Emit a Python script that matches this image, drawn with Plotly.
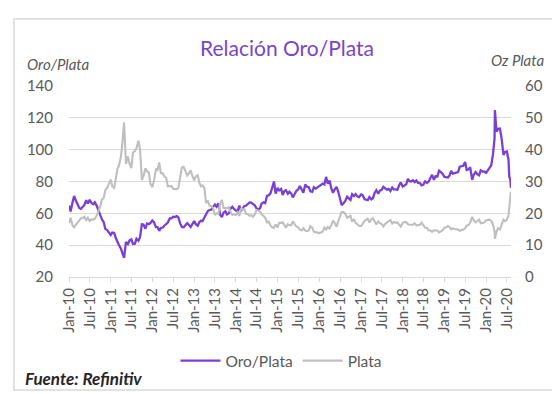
import plotly.graph_objects as go

# ---------------- data (semi-monthly readings) ----------------
DATES = """
2010-01-01 2010-01-15 2010-02-01 2010-02-15 2010-03-01 2010-03-15 2010-04-01 2010-04-15 2010-05-01 2010-05-15 2010-06-01 2010-06-15
2010-07-01 2010-07-15 2010-08-01 2010-08-15 2010-09-01 2010-09-15 2010-10-01 2010-10-15 2010-11-01 2010-11-15 2010-12-01 2010-12-15
2011-01-01 2011-01-15 2011-02-01 2011-02-15 2011-03-01 2011-03-15 2011-04-01 2011-04-15 2011-04-28 2011-05-15 2011-06-01 2011-06-15
2011-07-01 2011-07-15 2011-08-01 2011-08-15 2011-09-01 2011-09-15 2011-10-01 2011-10-15 2011-11-01 2011-11-15 2011-12-01 2011-12-15
2012-01-01 2012-01-15 2012-02-01 2012-02-15 2012-03-01 2012-03-15 2012-04-01 2012-04-15 2012-05-01 2012-05-15 2012-06-01 2012-06-15
2012-07-01 2012-07-15 2012-08-01 2012-08-15 2012-09-01 2012-09-15 2012-10-01 2012-10-15 2012-11-01 2012-11-15 2012-12-01 2012-12-15
2013-01-01 2013-01-15 2013-02-01 2013-02-15 2013-03-01 2013-03-15 2013-04-01 2013-04-15 2013-05-01 2013-05-15 2013-06-01 2013-06-15
2013-07-01 2013-07-15 2013-08-01 2013-08-15 2013-09-01 2013-09-15 2013-10-01 2013-10-15 2013-11-01 2013-11-15 2013-12-01 2013-12-15
2014-01-01 2014-01-15 2014-02-01 2014-02-15 2014-03-01 2014-03-15 2014-04-01 2014-04-15 2014-05-01 2014-05-15 2014-06-01 2014-06-15
2014-07-01 2014-07-15 2014-08-01 2014-08-15 2014-09-01 2014-09-15 2014-10-01 2014-10-15 2014-11-01 2014-11-15 2014-12-01 2014-12-15
2015-01-01 2015-01-15 2015-02-01 2015-02-15 2015-03-01 2015-03-15 2015-04-01 2015-04-15 2015-05-01 2015-05-15 2015-06-01 2015-06-15
2015-07-01 2015-07-15 2015-08-01 2015-08-15 2015-09-01 2015-09-15 2015-10-01 2015-10-15 2015-11-01 2015-11-15 2015-12-01 2015-12-15
2016-01-01 2016-01-15 2016-02-01 2016-02-15 2016-03-01 2016-03-15 2016-04-01 2016-04-15 2016-05-01 2016-05-15 2016-06-01 2016-06-15
2016-07-01 2016-07-15 2016-08-01 2016-08-15 2016-09-01 2016-09-15 2016-10-01 2016-10-15 2016-11-01 2016-11-15 2016-12-01 2016-12-15
2017-01-01 2017-01-15 2017-02-01 2017-02-15 2017-03-01 2017-03-15 2017-04-01 2017-04-15 2017-05-01 2017-05-15 2017-06-01 2017-06-15
2017-07-01 2017-07-15 2017-08-01 2017-08-15 2017-09-01 2017-09-15 2017-10-01 2017-10-15 2017-11-01 2017-11-15 2017-12-01 2017-12-15
2018-01-01 2018-01-15 2018-02-01 2018-02-15 2018-03-01 2018-03-15 2018-04-01 2018-04-15 2018-05-01 2018-05-15 2018-06-01 2018-06-15
2018-07-01 2018-07-15 2018-08-01 2018-08-15 2018-09-01 2018-09-15 2018-10-01 2018-10-15 2018-11-01 2018-11-15 2018-12-01 2018-12-15
2019-01-01 2019-01-15 2019-02-01 2019-02-15 2019-03-01 2019-03-15 2019-04-01 2019-04-15 2019-05-01 2019-05-15 2019-06-01 2019-06-15
2019-07-01 2019-07-15 2019-08-01 2019-08-15 2019-09-01 2019-09-15 2019-10-01 2019-10-15 2019-11-01 2019-11-15 2019-12-01 2019-12-15
2020-01-01 2020-01-15 2020-02-01 2020-02-15 2020-03-01 2020-03-15 2020-03-18 2020-04-01 2020-04-15 2020-05-01 2020-05-15 2020-06-01
2020-06-15 2020-07-01 2020-07-15 2020-07-22 2020-08-01 2020-08-05
""".split()

ORO_PLATA = [
    64.9, 61.1, 66.9, 70.9, 68.2, 65.7, 63.4, 62.8, 63.8, 65.1, 68.2, 66.1,
    68.6, 66.6, 65.7, 66.9, 64.7, 61.6, 59.5, 56.4, 54.4, 50.2, 49.5, 47.8,
    46.4, 47.9, 47.7, 44.5, 41.5, 40.0, 37.7, 34.8, 32.0, 42.0, 40.6, 43.0,
    43.6, 40.7, 40.9, 44.1, 42.8, 45.0, 53.1, 53.0, 50.3, 53.6, 53.2, 53.9,
    55.5, 54.5, 51.3, 51.3, 49.0, 50.8, 51.1, 52.2, 53.5, 54.2, 56.8, 56.8,
    57.8, 57.6, 58.2, 57.5, 53.5, 51.5, 51.3, 52.2, 53.8, 52.8, 51.4, 53.1,
    55.1, 53.2, 52.2, 54.4, 55.3, 55.2, 57.3, 59.5, 61.5, 62.1, 62.3, 64.1,
    65.5, 64.2, 66.2, 59.3, 57.6, 60.4, 61.3, 59.3, 60.0, 63.0, 64.1, 62.7,
    61.8, 61.1, 64.8, 61.7, 62.7, 64.5, 64.9, 65.7, 66.9, 66.8, 66.1, 65.1,
    63.1, 62.4, 63.2, 66.2, 66.9, 66.4, 71.1, 71.3, 72.7, 76.3, 80.0, 72.4,
    76.0, 74.4, 75.3, 71.5, 73.8, 74.5, 72.3, 73.6, 72.4, 70.0, 72.1, 74.2,
    75.0, 77.2, 75.0, 72.9, 78.1, 76.7, 76.4, 73.8, 73.5, 76.4, 75.5, 76.3,
    76.8, 77.9, 78.7, 78.1, 82.9, 78.7, 80.6, 75.8, 72.9, 75.0, 76.6, 73.7,
    68.5, 65.2, 66.4, 67.6, 70.4, 69.2, 68.5, 72.1, 70.9, 72.1, 70.5, 70.2,
    71.9, 71.4, 68.8, 68.6, 68.3, 70.2, 68.7, 69.5, 73.0, 74.5, 72.3, 74.3,
    74.7, 76.7, 76.0, 74.9, 75.4, 74.0, 76.2, 75.1, 75.0, 74.7, 77.7, 79.4,
    76.8, 77.5, 78.2, 81.6, 80.2, 80.0, 80.8, 79.6, 80.6, 79.1, 79.0, 77.6,
    78.1, 80.0, 79.2, 79.9, 82.2, 84.2, 81.0, 83.3, 83.2, 86.8, 85.9, 84.9,
    82.9, 82.7, 82.5, 83.8, 86.7, 85.0, 85.4, 85.4, 85.9, 89.3, 89.7, 89.9,
    92.2, 87.3, 87.7, 88.9, 81.0, 84.3, 86.0, 84.7, 83.9, 87.0, 86.2, 86.3,
    85.4, 86.9, 88.1, 90.1, 97.0, 107.0, 124.8, 111.3, 113.1, 113.3, 107.4, 96.7,
    98.6, 98.9, 93.8, 82.9, 80.9, 76.1,
]

PLATA = [
    16.9, 18.6, 16.2, 15.6, 16.4, 17.1, 17.6, 18.4, 18.5, 18.9, 17.9, 18.6,
    17.6, 18.1, 18.0, 18.3, 19.3, 20.6, 22.1, 24.3, 24.8, 27.3, 28.0, 29.2,
    30.6, 28.5, 28.0, 30.9, 34.0, 35.0, 37.9, 42.7, 48.6, 35.5, 37.9, 35.6,
    34.2, 39.1, 39.6, 40.5, 42.8, 40.2, 30.5, 31.7, 34.2, 33.2, 32.8, 29.3,
    28.2, 30.2, 33.9, 33.6, 36.0, 32.6, 32.6, 31.6, 31.1, 28.5, 28.5, 28.6,
    27.7, 27.6, 27.6, 27.9, 31.6, 34.4, 34.6, 33.5, 31.9, 32.5, 33.5, 31.9,
    30.4, 31.6, 32.0, 29.6, 28.5, 28.8, 27.9, 23.2, 24.0, 22.4, 22.3, 21.7,
    19.5, 20.0, 19.8, 23.0, 24.2, 21.7, 21.6, 21.6, 21.9, 20.4, 19.5, 19.7,
    19.5, 20.3, 19.2, 21.4, 21.2, 21.4, 19.8, 19.8, 19.2, 19.4, 18.9, 19.6,
    21.0, 20.9, 20.5, 19.7, 19.2, 18.6, 17.1, 17.4, 16.1, 15.6, 15.4, 16.5,
    15.6, 17.0, 17.0, 17.2, 16.4, 15.5, 16.6, 16.3, 16.3, 17.5, 16.5, 15.9,
    15.6, 14.9, 14.6, 15.3, 14.6, 14.4, 14.6, 16.0, 15.5, 14.2, 14.1, 13.9,
    13.8, 14.0, 14.3, 15.5, 14.9, 15.7, 15.2, 16.3, 17.7, 17.0, 15.8, 17.5,
    19.5, 20.4, 20.4, 19.9, 18.6, 19.0, 19.2, 17.4, 18.2, 17.0, 16.6, 16.1,
    16.0, 16.8, 17.6, 18.0, 18.3, 17.1, 18.2, 18.5, 17.2, 16.5, 17.5, 16.9,
    16.6, 15.9, 16.7, 17.1, 17.5, 17.9, 16.8, 17.3, 17.0, 17.2, 16.4, 15.8,
    17.0, 17.3, 17.2, 16.6, 16.4, 16.5, 16.4, 16.9, 16.2, 16.3, 16.4, 17.1,
    16.0, 15.5, 15.4, 14.7, 14.6, 14.2, 14.7, 14.7, 14.6, 14.0, 14.2, 14.6,
    15.5, 15.6, 16.0, 15.7, 15.0, 15.3, 15.1, 15.1, 14.9, 14.5, 14.6, 14.9,
    15.3, 16.2, 16.3, 17.1, 18.9, 17.8, 17.2, 17.6, 18.0, 16.9, 17.0, 17.1,
    17.8, 17.9, 18.0, 17.6, 16.6, 14.3, 12.0, 14.2, 15.3, 15.0, 16.2, 18.0,
    17.5, 18.0, 19.3, 22.5, 24.4, 26.8,
]

LEFT_TICKS = [20, 40, 60, 80, 100, 120, 140]
RIGHT_TICKS = [0, 10, 20, 30, 40, 50, 60]

PURPLE = "#7a3fd4"
GREY = "#bfbfbf"
TXT = "#595959"
GRID = "#d9d9d9"
FONT = "Lato, 'Open Sans', sans-serif"

# ---------------- figure ----------------
W, H = 560, 394
L, R, T, B = 61, 57, 78, 125
pw, ph = W - L - R, H - T - B


def px(x):
    return (x - L) / pw


def py(y):
    return (H - B - y) / ph


fig = go.Figure()
fig.add_trace(go.Scatter(x=DATES, y=ORO_PLATA, name="Oro/Plata", mode="lines",
                         line=dict(color=PURPLE, width=2.3), yaxis="y"))
fig.add_trace(go.Scatter(x=DATES, y=PLATA, name="Plata", mode="lines",
                         line=dict(color=GREY, width=2.1), yaxis="y2"))

fig.update_layout(
    width=W, height=H,
    margin=dict(l=L, r=R, t=T, b=B),
    paper_bgcolor="white", plot_bgcolor="white",
    font=dict(family=FONT, size=15, color=TXT),
    title=dict(text="Relación Oro/Plata", x=279 / W, xanchor="center",
               y=1 - 41 / H, yanchor="middle",
               font=dict(family=FONT, size=21, color="#7b45c8")),
    xaxis=dict(type="date", range=["2010-01-01", "2020-08-06"],
               tick0="2010-01-01", dtick="M6", tickformat="%b-%y",
               tickangle=-90, ticks="outside", ticklen=4, tickcolor=GRID,
               showline=True, linecolor=GRID, linewidth=1, showgrid=False,
               zeroline=False, tickfont=dict(size=15, color=TXT)),
    yaxis=dict(range=[20, 140], tickvals=LEFT_TICKS, showgrid=True,
               gridcolor=GRID, gridwidth=1, zeroline=False, showline=False,
               ticks="", ticklabelstandoff=15, tickfont=dict(size=15, color=TXT)),
    yaxis2=dict(range=[0, 60], tickvals=RIGHT_TICKS, overlaying="y",
                side="right", showgrid=False, zeroline=False, showline=False,
                ticks="", ticklabelstandoff=13, tickfont=dict(size=15, color=TXT)),
    legend=dict(orientation="h", x=px(273), xanchor="center", y=py(353),
                yanchor="middle", font=dict(size=15.5, color=TXT),
                bgcolor="rgba(0,0,0,0)", itemwidth=40),
    showlegend=True,
    shapes=[dict(type="rect", xref="paper", yref="paper",
                 x0=px(6), x1=px(549), y0=py(382), y1=py(11),
                 line=dict(color="#d9d9d9", width=1.5), layer="below")],
    annotations=[
        dict(text="<i>Oro/Plata</i>", xref="paper", yref="paper",
             x=px(17), xanchor="left", y=py(56), yanchor="middle",
             showarrow=False, font=dict(size=15, color=TXT)),
        dict(text="<i>Oz Plata</i>", xref="paper", yref="paper",
             x=px(538), xanchor="right", y=py(52), yanchor="middle",
             showarrow=False, font=dict(size=15, color=TXT)),
        dict(text="<b><i>Fuente: Refinitiv</i></b>", xref="paper", yref="paper",
             x=px(15), xanchor="left", y=py(370), yanchor="middle",
             showarrow=False, font=dict(size=17, color="#262626")),
    ],
)

fig.write_html("out.html", config={"displayModeBar": False})
